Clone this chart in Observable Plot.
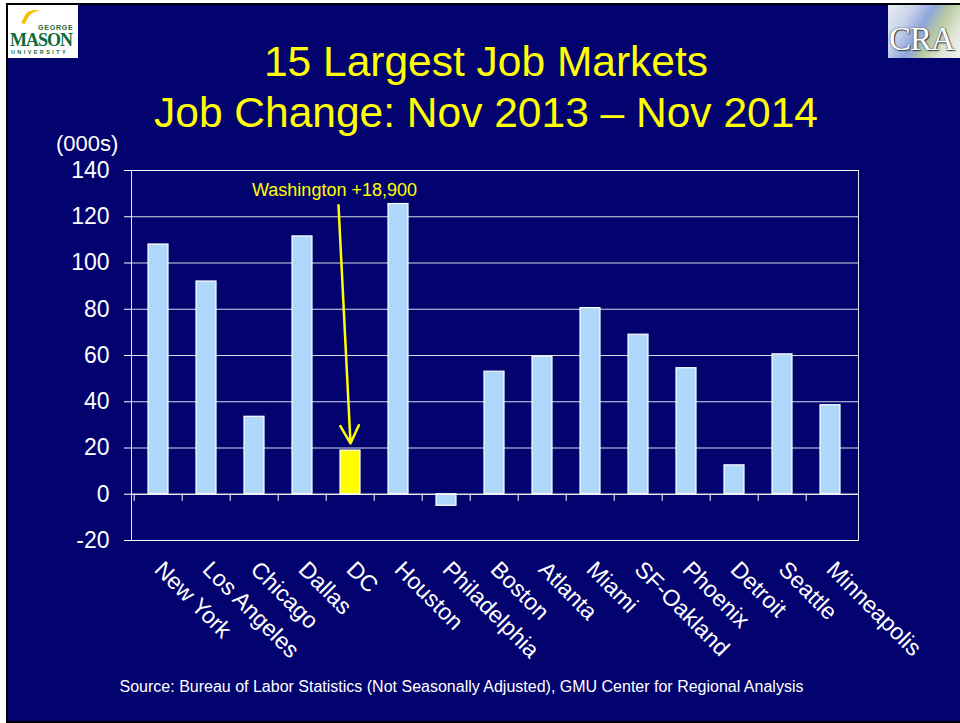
<!DOCTYPE html>
<html>
<head>
<meta charset="utf-8">
<script src="https://cdn.jsdelivr.net/npm/d3@7"></script>
<script src="https://cdn.jsdelivr.net/npm/@observablehq/plot@0.6"></script>
<style>
  html, body { margin: 0; padding: 0; background: #ffffff; }
  #slide { position: relative; width: 960px; height: 723px; overflow: hidden; font-family: "Liberation Sans", Arial, sans-serif; }
  #bg { position: absolute; left: 6px; top: 3px; width: 954px; height: 716px; background: #03036f;
        border-left: 2px solid #000; border-top: 2px solid #000; border-bottom: 2px solid #000; }
  .title { position: absolute; left: 0; width: 972px; text-align: center; color: #ffff00; font-size: 42.5px; line-height: 1; white-space: nowrap; }
  #units { position: absolute; left: 56px; top: 131px; color: #fff; font-size: 22px; }
  #source { position: absolute; left: 0; width: 923px; top: 678px; text-align: center; color: #fff; font-size: 16px; white-space: nowrap; }
  #chart { position: absolute; left: 0; top: 0; }
  #gmu { position: absolute; left: 8px; top: 5px; width: 70px; height: 53px; background: #fff; overflow: hidden; }
  #gmu .g { position: absolute; left: 30px; top: 19px; font-size: 7px; line-height: 1; font-weight: bold; color: #1a6b3a; letter-spacing: 0.8px; }
  #gmu .m { position: absolute; left: 2px; top: 26px; font-family: "Liberation Serif", "DejaVu Serif", serif; font-size: 18px; line-height: 1; font-weight: bold; color: #0d6b37; letter-spacing: -1px; }
  #gmu .m2 { position: absolute; left: 3px; top: 45px; font-size: 5.5px; line-height: 1; font-weight: bold; color: #0d6b37; letter-spacing: 2.4px; }
  #gmu .sw { position: absolute; left: 16px; top: 5px; width: 22px; height: 20px; border-left: 4px solid #f2c200; border-radius: 60% 0 0 0; transform: rotate(28deg); }
  #cra { position: absolute; left: 888px; top: 5px; width: 72px; height: 53px; overflow: hidden;
         background: linear-gradient(120deg, #e9ecf4 0%, #c9d4ea 25%, #8fa6dc 45%, #b9c9a2 62%, #dfe6d6 80%, #f2f2f2 100%); }
  #cra .t { position: absolute; left: 1px; top: 18px; font-family: "Liberation Serif", "DejaVu Serif", serif; font-size: 33px; line-height: 1; color: #fff; letter-spacing: -1px;
            text-shadow: 0 0 2px #39404a, 1px 1px 1px #39404a; }
</style>
</head>
<body>
<div id="slide">
  <div id="bg"></div>
  <div id="gmu"><div class="sw"></div><div class="g">GEORGE</div><div class="m">MASON</div><div class="m2">UNIVERSITY</div></div>
  <div id="cra"><div class="t">CRA</div></div>
  <div class="title" style="top:41px">15 Largest Job Markets</div>
  <div class="title" style="top:92px">Job Change: Nov 2013 – Nov 2014</div>
  <div id="units">(000s)</div>
  <div id="chart"></div>
  <div id="source">Source: Bureau of Labor Statistics (Not Seasonally Adjusted), GMU Center for Regional Analysis</div>
</div>
<script>
// ---- data ----
const categories = ["New York", "Los Angeles", "Chicago", "Dallas", "DC", "Houston", "Philadelphia",
  "Boston", "Atlanta", "Miami", "SF-Oakland", "Phoenix", "Detroit", "Seattle", "Minneapolis"];
const jobChange = [108, 92, 33.5, 111.5, 18.9, 125.5, -5, 53, 59.5, 80.5, 69, 54.5, 12.5, 60.5, 38.5];
const highlightCity = "DC";
const yTicks = [-20, 0, 20, 40, 60, 80, 100, 120, 140];
const annotationLabel = "Washington +18,900";
const annotationLabelValue = 129;   // where the label sits (000s)
const arrowStartValue = 125;        // arrow tail (000s)
const arrowEndValue = 22;           // arrow head (000s)

// ---- chart ----
const rows = categories.map((city, i) => ({city, value: jobChange[i]}));
const W = 960, H = 723, mL = 131, mR = 102, mT = 170, mB = 183;
const step = (W - mL - mR) / categories.length;

const chart = Plot.plot({
  width: W, height: H,
  marginLeft: mL, marginRight: mR, marginTop: mT, marginBottom: mB,
  style: {background: "transparent", color: "#ffffff", fontFamily: "'Liberation Sans', Arial, sans-serif"},
  x: {domain: categories, paddingInner: 0.58, paddingOuter: 0.29, label: null},
  y: {domain: [-20, 140], label: null},
  color: {type: "identity"},
  marks: [
    Plot.gridY(yTicks, {stroke: "#ffffff", strokeOpacity: 0.85, strokeWidth: 1}),
    Plot.frame({stroke: "#ffffff", strokeOpacity: 0.9}),
    Plot.barY(rows, {x: "city", y: "value",
      fill: d => d.city === highlightCity ? "#ffff00" : "#b0d8fc",
      stroke: "#ffffff", strokeWidth: 1.2}),
    Plot.ruleY([0], {stroke: "#ffffff", strokeWidth: 1.2}),
    Plot.ruleX(categories, {x: d => d, dx: -step / 2, y1: 0, y2: -3, stroke: "#d8d8e8", strokeWidth: 1.2}),
    Plot.axisY(yTicks, {tickSize: 7, tickPadding: 15, fontSize: 23, label: null, tickFormat: d => String(d)}),
    Plot.axisX({tickRotate: 45, tickSize: 0, tickPadding: 25, fontSize: 23, label: null}),
    Plot.arrow([annotationLabel], {
      x1: () => highlightCity, x2: () => highlightCity,
      y1: arrowStartValue, y2: arrowEndValue,
      stroke: "#ffff00", strokeWidth: 2.5, headLength: 12, headAngle: 55,
      render: (index, scales, values, dims, context, next) =>
        next(index, scales, {...values, x1: Float64Array.from(values.x1, v => v - 12)}, dims, context)
    }),
    Plot.text([annotationLabel], {
      x: () => highlightCity, y: annotationLabelValue, text: d => d,
      dx: -16, lineAnchor: "bottom", fill: "#ffff00", fontSize: 18
    })
  ]
});
document.getElementById("chart").appendChild(chart);
</script>
</body>
</html>
